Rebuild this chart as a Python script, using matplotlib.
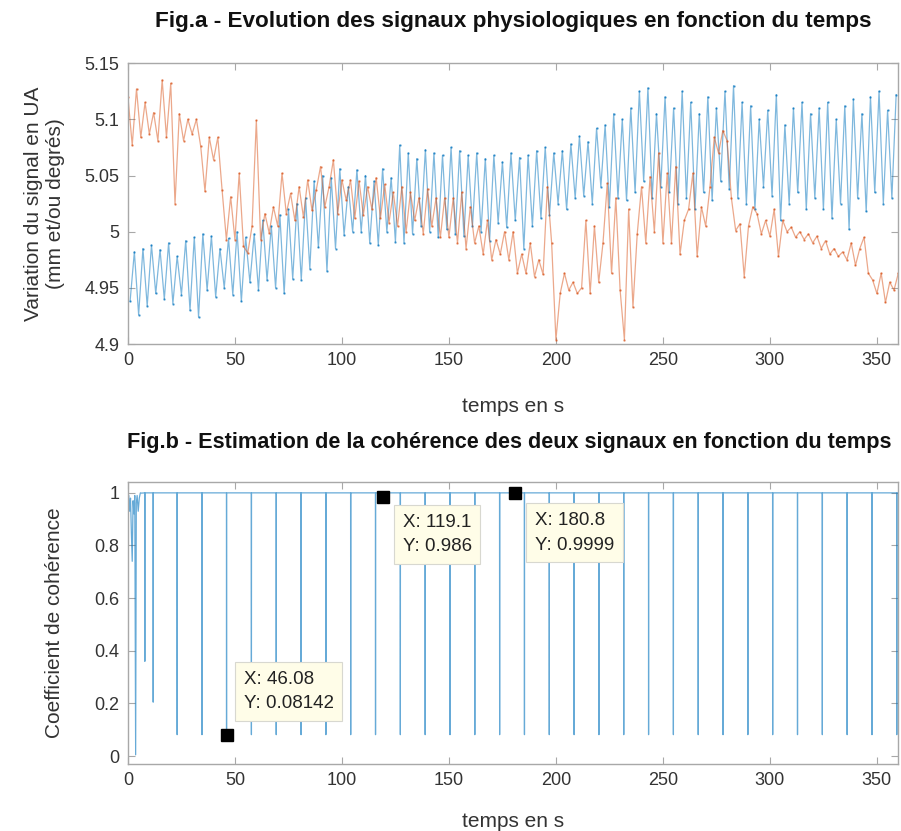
import numpy as np
import matplotlib.pyplot as plt
from matplotlib.ticker import FuncFormatter

plt.rcParams['font.family'] = ['Liberation Sans', 'DejaVu Sans']

blue_start, blue_step = 1.0, 2.0
blue_troughs = [
    4.938, 4.926, 4.934, 4.945, 4.940, 4.936, 4.944, 4.930, 4.924, 4.948,
    4.942, 4.950, 4.944, 4.938, 4.955, 4.948, 4.957, 4.950, 4.945, 4.958,
    4.957, 4.967, 4.986, 4.965, 4.985, 4.997, 5.000, 5.000, 4.990, 4.988,
    5.000, 4.991, 4.990, 4.998, 5.005, 5.000, 4.995, 5.002, 4.998, 4.996,
    5.005, 5.000, 4.992, 5.008, 5.004, 5.010, 4.985, 5.005, 5.012, 5.015,
    5.025, 5.020, 5.030, 5.032, 5.025, 5.040, 5.022, 5.030, 5.028, 5.035,
    5.045, 5.030, 5.040, 5.035, 5.025, 5.030, 5.020, 5.035, 5.028, 5.045,
    5.038, 5.030, 5.025, 5.020, 5.040, 5.032, 5.010, 5.025, 5.035, 5.020,
    5.030, 5.020, 5.012, 5.025, 5.002, 5.030, 5.018, 5.035, 5.025, 5.030,
]
blue_peaks = [
    4.982, 4.985, 4.988, 4.984, 4.990, 4.978, 4.992, 4.995, 4.998, 4.996,
    4.985, 4.994, 5.000, 4.995, 4.998, 5.010, 5.005, 5.015, 5.020, 5.025,
    5.030, 5.045, 5.050, 5.048, 5.056, 5.040, 5.055, 5.050, 5.045, 5.056,
    5.048, 5.077, 5.070, 5.065, 5.073, 5.070, 5.068, 5.075, 5.072, 5.068,
    5.070, 5.065, 5.068, 5.062, 5.070, 5.066, 5.068, 5.072, 5.075, 5.070,
    5.072, 5.078, 5.085, 5.080, 5.092, 5.095, 5.105, 5.100, 5.110, 5.125,
    5.128, 5.105, 5.120, 5.110, 5.125, 5.115, 5.105, 5.120, 5.110, 5.125,
    5.130, 5.115, 5.112, 5.100, 5.108, 5.122, 5.095, 5.110, 5.115, 5.105,
    5.110, 5.115, 5.100, 5.112, 5.118, 5.105, 5.120, 5.125, 5.108, 5.122,
]

orange_start, orange_step = 0.0, 2.0
orange_vals = [
    5.120, 5.077, 5.127, 5.084, 5.115, 5.087, 5.106, 5.081, 5.135, 5.084,
    5.132, 5.025, 5.105, 5.081, 5.100, 5.087, 5.100, 5.076, 5.036, 5.084,
    5.064, 5.084, 5.037, 4.993, 5.031, 4.993, 5.052, 4.987, 4.981, 5.005,
    5.099, 4.993, 5.016, 4.999, 5.022, 5.005, 5.052, 5.016, 5.034, 5.010,
    5.040, 5.013, 5.046, 5.019, 5.037, 5.058, 5.022, 5.040, 5.064, 5.016,
    5.046, 5.028, 5.046, 5.012, 5.045, 5.015, 5.040, 5.020, 5.048, 5.012,
    5.042, 5.008, 5.035, 5.005, 5.040, 5.000, 5.035, 5.010, 5.030, 4.998,
    5.038, 5.005, 5.030, 4.995, 5.030, 4.995, 5.030, 4.990, 5.035, 4.985,
    5.022, 4.990, 5.005, 4.980, 5.010, 4.975, 4.993, 4.980, 5.000, 4.975,
    5.000, 4.963, 4.980, 4.963, 4.990, 4.960, 4.975, 4.962, 5.040, 4.990,
    4.904, 4.945, 4.963, 4.948, 4.955, 4.945, 4.950, 5.010, 4.945, 5.005,
    4.955, 4.990, 5.043, 4.963, 5.030, 4.948, 4.904, 5.020, 4.933, 4.998,
    5.040, 4.990, 5.049, 5.000, 5.070, 4.990, 5.052, 4.990, 5.058, 4.980,
    5.010, 5.020, 5.052, 4.978, 5.022, 5.005, 5.040, 5.084, 5.070, 5.090,
    5.081, 5.030, 5.001, 5.007, 4.960, 5.005, 5.022, 5.016, 4.998, 5.010,
    4.996, 5.020, 4.978, 5.010, 5.000, 5.004, 4.995, 5.000, 4.993, 4.998,
    4.990, 4.996, 4.985, 4.992, 4.980, 4.985, 4.978, 4.982, 4.975, 4.990,
    4.970, 4.985, 4.995, 4.963, 4.957, 4.945, 4.963, 4.937, 4.955, 4.948,
    4.963,
]

# Fig.b - coherence
coh_early_t = [0.0, 0.4, 0.8, 1.2, 1.6, 2.0, 2.4, 2.8, 3.2, 3.6, 3.9, 4.3, 4.8, 5.3, 5.8, 6.3]
coh_early_v = [0.87, 0.99, 0.93, 0.98, 0.85, 0.74, 0.97, 0.92, 0.99, 0.005, 0.96, 0.99, 0.93, 0.98, 1.0, 0.999]
early_dip_t = [7.9, 11.8]
early_dip_v = [0.36, 0.205]
coh_base = 0.9999
spike_min = 0.08142
spike_t = [23.0, 34.6, 46.08, 57.7, 69.3, 80.9, 92.5, 104.1, 115.7, 127.3,
           138.9, 150.5, 162.1, 173.7, 185.3, 196.9, 208.5, 220.1, 231.7, 243.3,
           254.9, 266.5, 278.1, 289.7, 301.3, 312.9, 324.5, 336.1, 347.7, 359.3]
tips_x = [46.08, 119.1, 180.8]
tips_y = [0.08142, 0.986, 0.9999]

# build series
blue_v = np.empty(len(blue_troughs) * 2)
blue_v[0::2] = blue_troughs
blue_v[1::2] = blue_peaks
blue_t = blue_start + blue_step * np.arange(len(blue_v))
orange_t = orange_start + orange_step * np.arange(len(orange_vals))

coh_t = list(coh_early_t)
coh_v = list(coh_early_v)
for t, v in zip(early_dip_t + spike_t, early_dip_v + [spike_min] * len(spike_t)):
    coh_t += [t - 0.05, t, t + 0.05]
    coh_v += [coh_base, v, coh_base]
coh_t.append(362)
coh_v.append(coh_base)

BLUE = '#0072BD'
ORANGE = '#D95319'
TXT = '#333333'
SPINE = '#a8a8a8'

fig = plt.figure(figsize=(9.01, 8.31), dpi=100)
ax1 = fig.add_axes([0.142, 0.586, 0.855, 0.338])
ax2 = fig.add_axes([0.142, 0.0806, 0.855, 0.339])

ax1.plot(blue_t, blue_v, color=BLUE, lw=0.9, alpha=0.5)
ax1.plot(blue_t, blue_v, ls='none', marker='.', ms=1.5, color=BLUE, alpha=0.6)
ax1.plot(orange_t, orange_vals, color=ORANGE, lw=0.9, alpha=0.5)
ax1.plot(orange_t, orange_vals, ls='none', marker='.', ms=1.5, color=ORANGE, alpha=0.6)
ax1.set_xlim(0, 360)
ax1.set_ylim(4.9, 5.15)
ax1.set_yticks([4.9, 4.95, 5.0, 5.05, 5.1, 5.15])
ax1.set_title('Fig.a - Evolution des signaux physiologiques en fonction du temps',
              fontsize=16.2, fontweight='bold', color='#111111', pad=26)
ax1.set_xlabel('temps en s', fontsize=15, color=TXT, labelpad=20)
ax1.set_ylabel('Variation du signal en UA\n(mm et/ou degrés)', fontsize=15, color=TXT, labelpad=14)

ax2.plot(coh_t, coh_v, color=BLUE, lw=0.9, alpha=0.6)
ax2.set_xlim(0, 360)
ax2.set_ylim(-0.03, 1.04)
ax2.set_yticks([0, 0.2, 0.4, 0.6, 0.8, 1.0])
ax2.set_title('Fig.b - Estimation de la cohérence des deux signaux en fonction du temps',
              fontsize=15.6, fontweight='bold', color='#111111', pad=25, x=0.495)
ax2.set_xlabel('temps en s', fontsize=15, color=TXT, labelpad=16)
ax2.set_ylabel('Coefficient de cohérence', fontsize=15, color=TXT, labelpad=22)

ax2.plot(tips_x, tips_y, ls='none', marker='s', ms=9, color='black')
offsets = [(17, 64), (20, -17), (20, -19)]
for x, y, off in zip(tips_x, tips_y, offsets):
    ax2.annotate(f'X: {x:g}\nY: {y:.4g}', xy=(x, y), xytext=off, textcoords='offset pixels',
                 ha='left', va='top', fontsize=13.5, color='#222222', linespacing=1.6,
                 bbox=dict(boxstyle='square,pad=0.45', fc='#fffde8', ec='#d8d8d0', lw=0.8))

fmt = FuncFormatter(lambda v, p: f'{v:g}')
for ax in (ax1, ax2):
    ax.set_xticks(np.arange(0, 351, 50))
    ax.yaxis.set_major_formatter(fmt)
    ax.tick_params(direction='in', top=True, right=True, length=5, width=0.8,
                   colors=SPINE, labelcolor=TXT, labelsize=13, pad=6)
    for s in ax.spines.values():
        s.set_color(SPINE)
        s.set_linewidth(1.0)

fig.savefig('out.png', dpi=100)
